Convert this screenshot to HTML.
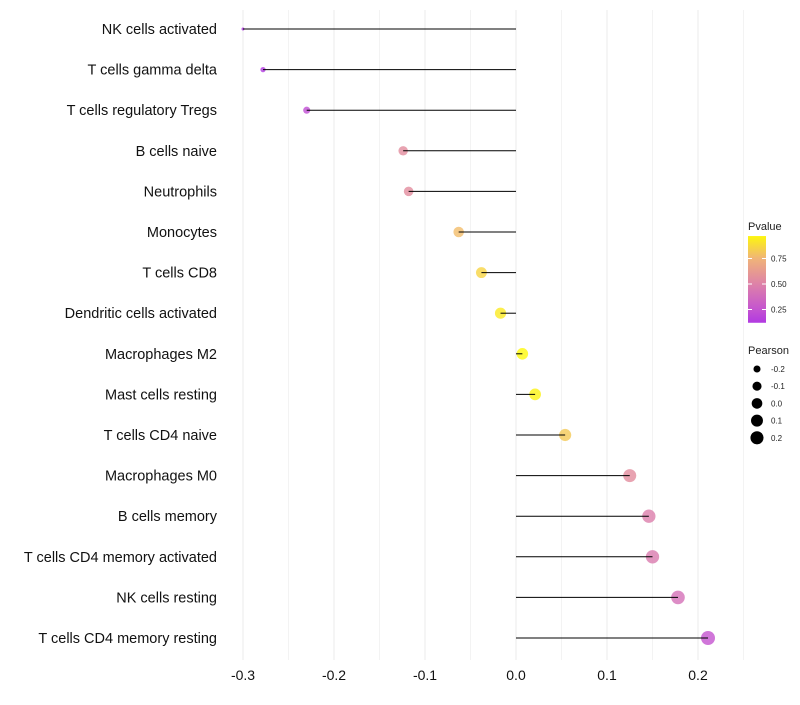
<!DOCTYPE html>
<html><head><meta charset="utf-8"><style>
body{margin:0;background:#fff;font-family:"Liberation Sans",sans-serif}
</style></head><body>
<svg id="chart" width="800" height="700" xmlns="http://www.w3.org/2000/svg" font-family="Liberation Sans, sans-serif"></svg>
<script>
const categories=["NK cells activated","T cells gamma delta","T cells regulatory  Tregs","B cells naive","Neutrophils","Monocytes","T cells CD8","Dendritic cells activated","Macrophages M2","Mast cells resting","T cells CD4 naive","Macrophages M0","B cells memory","T cells CD4 memory activated","NK cells resting","T cells CD4 memory resting"];
const pearson=[-0.300,-0.278,-0.230,-0.124,-0.118,-0.063,-0.038,-0.017,0.007,0.021,0.054,0.125,0.146,0.150,0.178,0.211];
const pvalues=[0.10,0.12,0.22,0.55,0.55,0.78,0.86,0.93,0.98,0.96,0.82,0.55,0.48,0.46,0.40,0.25];
const xTicks=[-0.3,-0.2,-0.1,0.0,0.1,0.2];
const xTickLabels=["-0.3","-0.2","-0.1","0.0","0.1","0.2"];
const colorTicks=[0.25,0.5,0.75];
const colorTickLabels=["0.25","0.50","0.75"];
const sizeTicks=[-0.2,-0.1,0.0,0.1,0.2];
const sizeTickLabels=["-0.2","-0.1","0.0","0.1","0.2"];

const svg=document.getElementById('chart');
const NS="http://www.w3.org/2000/svg";
function mk(t,a,p){const e=document.createElementNS(NS,t);for(const k in a)e.setAttribute(k,a[k]);(p||svg).appendChild(e);return e;}
const x=v=>516+v*(698-516)/0.2;
const y=i=>29+i*(638-29)/15;
const rScale=v=>1.5+5.5*Math.sqrt(Math.max(0,(v+0.3)/0.51));
const stops=[[0,[160,32,240]],[0.25,[196,84,208]],[0.5,[222,130,168]],[0.75,[240,180,120]],[1,[255,255,0]]];
function col(p){for(let i=0;i<stops.length-1;i++){const [p0,a]=stops[i],[p1,b]=stops[i+1];
 if(p<=p1){const t=(p-p0)/(p1-p0);return `rgb(${a.map((v,k)=>Math.round(v+(b[k]-v)*t)).join(',')})`;}}
 return 'rgb(255,255,0)';}
for(let v=-0.3;v<=0.2501;v+=0.05){const g=mk('line',{x1:x(v),x2:x(v),y1:10,y2:660,stroke:'#ebebeb','stroke-width':Math.abs(Math.round(v*20))%2===0?1:0.6});
}
xTicks.forEach((v,i)=>{const t=mk('text',{x:x(v),y:680,'text-anchor':'middle','font-size':14,fill:'#111'});t.textContent=xTickLabels[i];
});
categories.forEach((c,i)=>{
 const t=mk('text',{x:217,y:y(i)+5,'text-anchor':'end','font-size':14.5,fill:'#111'});t.textContent=c;
 
 const d=mk('circle',{cx:x(pearson[i]),cy:y(i),r:rScale(pearson[i]),fill:col(pvalues[i]),'fill-opacity':0.8});
 
 const l=mk('line',{x1:x(0),x2:x(pearson[i]),y1:y(i),y2:y(i),stroke:'#000','stroke-width':1});
 
});
const lt=mk('text',{x:748,y:230,'font-size':11,fill:'#222'});lt.textContent="Pvalue";

const defs=mk('defs',{});const gr=mk('linearGradient',{id:'pg',x1:0,y1:1,x2:0,y2:0},defs);
[0.12,0.25,0.5,0.75,0.97].forEach(p=>mk('stop',{offset:(p-0.12)/0.85,'stop-color':col(p)},gr));
const cy=v=>335-v*(335-284)/0.5;
const bar=mk('rect',{x:748,y:cy(0.97),width:18,height:cy(0.12)-cy(0.97),fill:'url(#pg)'});

colorTicks.forEach((v,i)=>{mk('line',{x1:748,x2:752,y1:cy(v),y2:cy(v),stroke:'#fff'});mk('line',{x1:762,x2:766,y1:cy(v),y2:cy(v),stroke:'#fff'});
 const t=mk('text',{x:771,y:cy(v)+3,'font-size':8,fill:'#222'});t.textContent=colorTickLabels[i];
 });
const st=mk('text',{x:748,y:354,'font-size':11,fill:'#222'});st.textContent="Pearson";

sizeTicks.forEach((v,i)=>{const yy=369+i*17.2;
 const c=mk('circle',{cx:757,cy:yy,r:rScale(v)-0.4,fill:'#000'});
 
 const t=mk('text',{x:771,y:yy+3,'font-size':8,fill:'#222'});t.textContent=sizeTickLabels[i];
 });
</script>
</body></html>
